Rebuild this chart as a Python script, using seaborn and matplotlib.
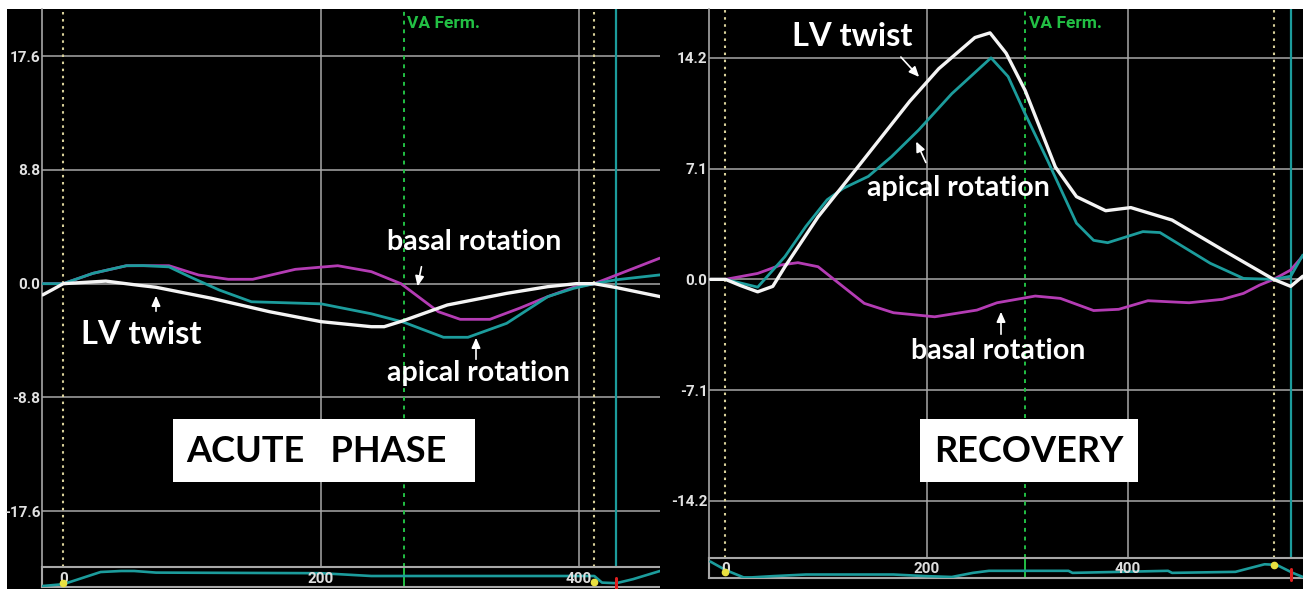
import numpy as np
import pandas as pd
import seaborn as sns
import matplotlib.pyplot as plt
from matplotlib.patches import Rectangle, FancyArrowPatch

# --- data (time in ms, rotation in deg) ---
acute_t_basal = [-16, 0, 23, 49, 82, 105, 128, 147, 180, 213, 239, 262, 291, 308, 331, 354, 376, 396, 412, 463]
acute_basal = [0, 0, 0.8, 1.39, 1.39, 0.67, 0.34, 0.34, 1.11, 1.39, 0.93, 0, -2.17, -2.76, -2.76, -1.9, -1.0, -0.28, 0, 1.98]

acute_t_apical = [-16, 0, 23, 49, 62, 82, 98, 121, 146, 200, 239, 264, 295, 314, 344, 376, 396, 412, 429, 463]
acute_apical = [0, 0, 0.8, 1.39, 1.4, 1.3, 0.54, -0.49, -1.4, -1.56, -2.33, -2.98, -4.15, -4.15, -3.07, -1.0, -0.36, 0, 0.3, 0.68]

acute_t_twist = [-16, -8, 0, 33, 59, 72, 115, 160, 200, 239, 249, 264, 298, 344, 376, 398, 412, 429, 463]
acute_twist = [-0.87, -0.44, 0, 0.2, -0.13, -0.28, -1.13, -2.17, -2.94, -3.33, -3.33, -2.86, -1.65, -0.75, -0.23, 0, 0, -0.3, -1.0]

rec_t_twist = [-15, 0, 15, 32, 47, 59, 92, 134, 183, 212, 248, 263, 279, 298, 328, 349, 378, 403, 444, 494, 545, 562, 574]
rec_twist = [0, 0, -0.4, -0.8, -0.45, 0.8, 4.0, 7.4, 11.4, 13.5, 15.5, 15.8, 14.5, 12.1, 7.2, 5.3, 4.4, 4.6, 3.8, 1.9, 0, -0.45, 0.2]

rec_t_apical = [-15, 0, 32, 59, 80, 101, 117, 142, 165, 192, 225, 264, 281, 298, 320, 349, 366, 380, 415, 432, 482, 515, 545, 562, 574]
rec_apical = [0, 0, -0.5, 1.45, 3.4, 5.1, 5.83, 6.6, 7.86, 9.57, 11.9, 14.2, 13.0, 10.6, 7.65, 3.6, 2.5, 2.35, 3.06, 3.0, 1.03, 0.06, 0, 0.2, 1.56]

rec_t_basal = [-15, 0, 32, 55, 72, 92, 117, 138, 167, 208, 250, 270, 308, 333, 366, 391, 420, 461, 494, 515, 531, 545, 562, 574]
rec_basal = [0, 0, 0.38, 0.92, 1.07, 0.81, -0.47, -1.54, -2.14, -2.4, -1.97, -1.5, -1.07, -1.22, -2.0, -1.92, -1.37, -1.5, -1.28, -0.9, -0.37, 0, 0.6, 1.5]

# ECG-like trace in the bottom strip (0 = strip bottom, 1 = strip top)
acute_t_ecg = [-16, 0, 29, 45, 55, 72, 200, 239, 412, 418, 429, 442, 463]
acute_ecg = [0.05, 0.14, 0.75, 0.8, 0.8, 0.72, 0.69, 0.55, 0.55, 0.22, 0.19, 0.39, 0.8]
rec_t_ecg = [-15, 0, 18, 26, 47, 80, 167, 200, 225, 246, 262, 341, 345, 440, 444, 507, 536, 548, 564, 574]
rec_ecg = [0.8, 0.39, 0.03, 0.03, 0.09, 0.17, 0.17, 0.09, 0.05, 0.25, 0.35, 0.35, 0.25, 0.35, 0.25, 0.3, 0.67, 0.64, 0.25, 0.05]

acute_yticks = [17.6, 8.8, 0.0, -8.8, -17.6]
rec_yticks = [14.2, 7.1, 0.0, -7.1, -14.2]
xtick_vals = [0, 200, 400]

acute_events = {"start": 0, "va_ferm": 264, "end": 412, "cursor": 429}
rec_events = {"start": 0, "va_ferm": 298, "end": 545, "cursor": 562}

MAGENTA = "#b43cb4"
TEAL = "#1c9c9c"
WHITE = "#f4f4f4"
GRID = "#a8a8a8"
YELLOW = "#d8d09a"
GREEN = "#22c044"

sns.set_style("dark", {"axes.facecolor": "black"})
plt.rcParams["font.family"] = ["Lato", "DejaVu Sans"]

W, H = 1303, 589
fig = plt.figure(figsize=(W / 100, H / 100), dpi=100, facecolor="white")


def rect(x0, y0, x1, y1):
    return [x0 / W, 1 - y1 / H, (x1 - x0) / W, (y1 - y0) / H]


def P(x, y):
    return (x / W, 1 - y / H)


def make_df(series):
    frames = []
    for name, t, v in series:
        frames.append(pd.DataFrame({"t": t, "v": v, "curve": name}))
    return pd.concat(frames, ignore_index=True)


def draw_panel(bg, main, strip, xlim, ylim, yticks, df, t_ecg, ecg, ev, ecg_marks):
    back = fig.add_axes(rect(*bg))
    back.set_facecolor("black")
    back.set_xticks([])
    back.set_yticks([])
    for s in back.spines.values():
        s.set_visible(False)

    ax = fig.add_axes(rect(*main))
    ax.set_facecolor("black")
    sns.lineplot(data=df, x="t", y="v", hue="curve", units="curve", estimator=None, sort=False,
                 palette={"basal": MAGENTA, "apical": TEAL, "twist": WHITE},
                 hue_order=["basal", "apical", "twist"], legend=False, ax=ax, zorder=4)
    for line in ax.lines:
        line.set_linewidth(2.4 if line.get_color() == WHITE else 2.0)
        line.set_solid_joinstyle("round")
    ax.set_xlim(*xlim)
    ax.set_ylim(*ylim)
    ax.set_yticks(yticks)
    ax.set_yticklabels([f"{v:.1f}" for v in yticks])
    ax.set_xticks([200, 400])
    ax.set_xticklabels([])
    ax.set_xlabel("")
    ax.set_ylabel("")
    ax.grid(True, color=GRID, lw=1.1, zorder=1)
    ax.set_axisbelow(True)
    ax.tick_params(axis="both", length=0, pad=1)
    ax.tick_params(axis="y", labelcolor="#e2e2e2", labelsize=11)
    for lab in ax.get_yticklabels():
        lab.set_family(["Roboto", "DejaVu Sans"])
        lab.set_fontweight("bold")
    for k in ["top", "right"]:
        ax.spines[k].set_visible(False)
    ax.spines["left"].set_color(GRID)
    ax.spines["left"].set_linewidth(1.2)
    ax.spines["bottom"].set_color(GRID)
    ax.spines["bottom"].set_linewidth(1.8)

    ax.axvline(ev["start"], color=YELLOW, ls=(0, (1.2, 2.2)), lw=1.5, zorder=3)
    ax.axvline(ev["end"], color=YELLOW, ls=(0, (1.2, 2.2)), lw=1.5, zorder=3)
    ax.axvline(ev["va_ferm"], color=GREEN, ls=(0, (2, 2.5)), lw=1.4, zorder=3)
    ax.axvline(ev["cursor"], color=TEAL, lw=1.6, zorder=3)

    sx = fig.add_axes(rect(*strip))
    sx.set_facecolor("black")
    sns.lineplot(x=t_ecg, y=ecg, color=TEAL, lw=1.9, ax=sx, zorder=3)
    sx.set_xlim(*xlim)
    sx.set_ylim(0, 1)
    sx.set_xticks([])
    sx.set_yticks([])
    sx.grid(False)
    sx.axvline(ev["va_ferm"], color=GREEN, lw=1.4, zorder=2)
    for k in ["top", "bottom", "left"]:
        sx.spines[k].set_color(GRID)
        sx.spines[k].set_linewidth(1.5)
    sx.spines["right"].set_visible(False)
    for v in xtick_vals:
        sx.text(v, 0.42, str(v), ha="center", va="center", color="#dedede", fontsize=11,
                family=["Roboto", "DejaVu Sans"], fontweight="bold", zorder=4)
    sx.plot([ev["start"], ev["end"]], ecg_marks, "o", color="#e8e040", ms=4.5, zorder=5)
    sx.plot([ev["cursor"], ev["cursor"]], [-0.1, 0.45], color="#e02020", lw=2.2, zorder=5,
            clip_on=False)
    return ax


acute_df = make_df([("basal", acute_t_basal, acute_basal),
                    ("apical", acute_t_apical, acute_apical),
                    ("twist", acute_t_twist, acute_twist)])
rec_df = make_df([("basal", rec_t_basal, rec_basal),
                  ("apical", rec_t_apical, rec_apical),
                  ("twist", rec_t_twist, rec_twist)])

draw_panel((7, 9, 660, 589), (42, 9, 660, 567), (42, 567, 660, 587),
           (-16.5, 463), (-21.93, 21.26), acute_yticks, acute_df,
           acute_t_ecg, acute_ecg, acute_events, [0.2, 0.25])
draw_panel((660, 9, 1303, 589), (709, 9, 1303, 557.5), (709, 557.5, 1303, 578),
           (-16.4, 574.2), (-17.83, 17.33), rec_yticks, rec_df,
           rec_t_ecg, rec_ecg, rec_events, [0.3, 0.64])

# --- annotations, placed in figure pixels ---
lab = dict(color="white", fontsize=20.5, fontweight="bold", ha="center", va="center")
arrow = dict(arrowstyle="-|>,head_length=0.5,head_width=0.22", color="white", lw=1.2)

fig.text(*P(474, 242), "basal rotation", **lab)
fig.text(*P(141, 334), "LV twist", **{**lab, "fontsize": 23.5})
fig.text(*P(478, 373), "apical rotation", **lab)
fig.text(*P(852, 36), "LV twist", **{**lab, "fontsize": 23.5})
fig.text(*P(958, 188), "apical rotation", **lab)
fig.text(*P(998, 351), "basal rotation", **lab)

for tail, head in [((422, 264), (417, 289)), ((156, 314), (156, 293)), ((476, 362), (476, 335)),
                   ((899, 55), (921, 79)), ((927, 165), (915, 139)), ((1001, 337), (1001, 309))]:
    fig.add_artist(FancyArrowPatch(P(*tail), P(*head), transform=fig.transFigure,
                                   mutation_scale=12, **arrow))

for x0, y0, x1, y1, txt in [(173, 419, 475, 482, "ACUTE   PHASE"), (920, 419, 1138, 482, "RECOVERY")]:
    fig.add_artist(Rectangle(P(x0, y1), (x1 - x0) / W, (y1 - y0) / H, transform=fig.transFigure,
                             facecolor="white", edgecolor="none", zorder=6))
    fig.text(*P((x0 + x1) / 2 - 8 if "ACUTE" in txt else (x0 + x1) / 2, (y0 + y1) / 2 + 1), txt,
             color="black", fontsize=26, fontweight="bold", ha="center", va="center", zorder=7)

for x, y in [(407, 24), (1029, 23)]:
    fig.text(*P(x, y), "VA Ferm.", color=GREEN, fontsize=12.5, fontweight="bold",
             family=["Roboto", "DejaVu Sans"], ha="left", va="center")

fig.savefig("out.png", dpi=100, facecolor="white")
